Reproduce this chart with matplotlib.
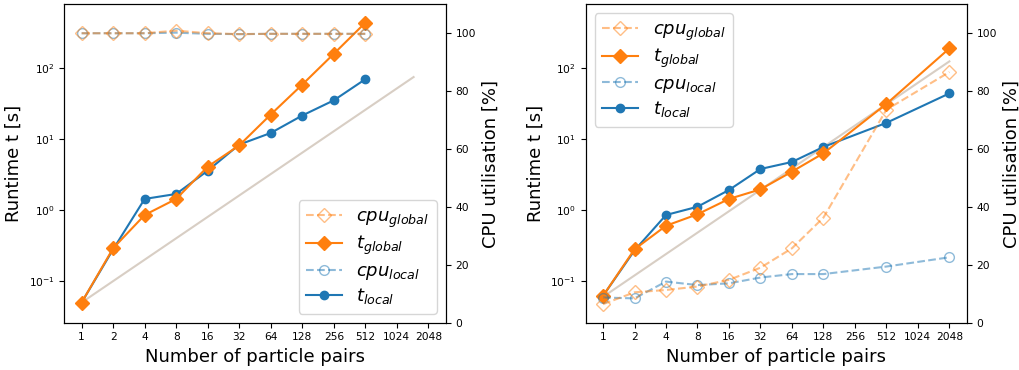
import numpy as np
import matplotlib
matplotlib.use("Agg")
import matplotlib.pyplot as plt
from matplotlib.ticker import NullLocator

# ---------------- data ----------------
tick_labels = ["1", "2", "4", "8", "16", "32", "64", "128", "256", "512", "1024", "2048"]

# left panel (indices into tick_labels)
left_idx = [0, 1, 2, 3, 4, 5, 6, 7, 8, 9]
left_t_global = [0.05, 0.29, 0.85, 1.43, 4.07, 8.1, 22.0, 58.0, 157.0, 430.0]
left_t_local = [0.05, 0.28, 1.43, 1.68, 3.57, 8.3, 12.1, 21.3, 34.8, 69.0]
left_cpu_global = [100.0, 100.0, 100.0, 100.9, 100.0, 99.7, 99.8, 99.8, 99.8, 99.8]
left_cpu_local = [100.0, 100.0, 100.0, 100.2, 99.8, 99.7, 99.8, 99.8, 99.8, 99.8]
left_ref_t0 = 0.05
left_ref_nmax = 1480

# right panel
right_idx = [0, 1, 2, 3, 4, 5, 6, 7, 9, 11]
right_t_global = [0.062, 0.28, 0.60, 0.87, 1.43, 1.95, 3.46, 6.27, 31.0, 187.0]
right_t_local = [0.062, 0.27, 0.85, 1.11, 1.91, 3.77, 4.73, 7.7, 16.8, 43.6]
right_cpu_global = [6.4, 10.5, 11.3, 12.5, 14.8, 19.0, 25.7, 36.3, 73.6, 86.6]
right_cpu_local = [8.7, 8.4, 14.2, 13.0, 13.6, 15.6, 16.8, 16.8, 19.4, 22.6]
right_ref_t0 = 0.06
right_ref_nmax = 2048

C_ORANGE = "#ff7f0e"
C_BLUE = "#1f77b4"
C_REF = "#d8cec4"
TICK_FS = 7.7
LABEL_FS = 13

W, H = 1020, 370
fig = plt.figure(figsize=(W / 100, H / 100), dpi=100)


def make_panel(x0, x1, idx, t_g, t_l, cpu_g, cpu_l, ref_t0, ref_nmax, legend_loc):
    ax = fig.add_axes([x0 / W, 1 - 322.7 / H, (x1 - x0) / W, (322.7 - 4.3) / H])
    ax.set_yscale("log")
    # linear-scaling reference line
    n_ref = np.array([1.0, ref_nmax])
    ax.plot(np.log2(n_ref), ref_t0 * n_ref, color=C_REF, lw=1.5, zorder=1)
    l_tl, = ax.plot(idx, t_l, color=C_BLUE, marker="o", ms=6, lw=1.5, zorder=2)
    l_tg, = ax.plot(idx, t_g, color=C_ORANGE, marker="D", ms=7, lw=1.5, zorder=3)
    ax.set_xticks(range(len(tick_labels)))
    ax.set_xticklabels(tick_labels)
    ax.set_xlim(-0.55, 11.55)
    ax.set_ylim(0.026, 780)
    ax.yaxis.set_minor_locator(NullLocator())
    ax.tick_params(labelsize=TICK_FS)
    ax.set_xlabel("Number of particle pairs", fontsize=LABEL_FS)
    ax.set_ylabel("Runtime t [s]", fontsize=LABEL_FS)

    axr = ax.twinx()
    l_cl, = axr.plot(idx, cpu_l, color=C_BLUE, ls="--", marker="o", ms=7,
                     mfc="none", alpha=0.5, lw=1.5)
    l_cg, = axr.plot(idx, cpu_g, color=C_ORANGE, ls="--", marker="D", ms=7,
                     mfc="none", alpha=0.5, lw=1.5)
    axr.set_ylim(0, 110)
    axr.set_yticks([0, 20, 40, 60, 80, 100])
    axr.tick_params(labelsize=TICK_FS)
    axr.set_ylabel("CPU utilisation [%]", fontsize=LABEL_FS)
    axr.legend([l_cg, l_tg, l_cl, l_tl],
               [r"$cpu_{global}$", r"$t_{global}$", r"$cpu_{local}$", r"$t_{local}$"],
               loc=legend_loc, fontsize=13, labelspacing=0.25)
    return ax, axr


make_panel(64.3, 445.7, left_idx, left_t_global, left_t_local,
           left_cpu_global, left_cpu_local, left_ref_t0, left_ref_nmax, "lower right")
make_panel(585.7, 966.7, right_idx, right_t_global, right_t_local,
           right_cpu_global, right_cpu_local, right_ref_t0, right_ref_nmax, "upper left")

fig.savefig("out.png", dpi=100)
